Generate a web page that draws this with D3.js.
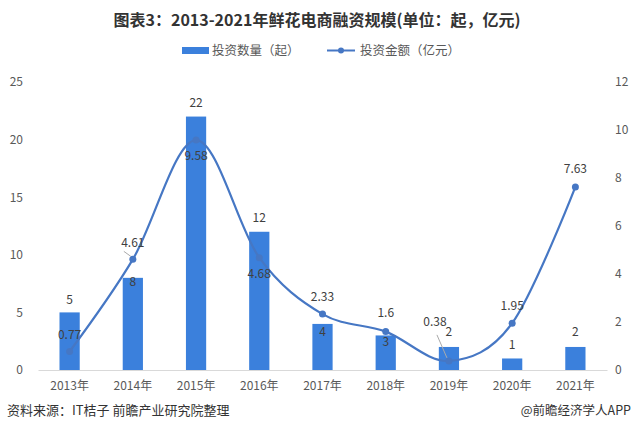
<!DOCTYPE html>
<html><head><meta charset="utf-8">
<script src="https://cdn.jsdelivr.net/npm/d3@7"></script>
<style>body{margin:0;background:#fff}svg{display:block}text{font-family:"Noto Sans CJK SC","Noto Sans",sans-serif}</style>
</head><body><svg id="c" width="634" height="435"></svg>
<script>
const years = ["2013年","2014年","2015年","2016年","2017年","2018年","2019年","2020年","2021年"];
const counts = [5, 8, 22, 12, 4, 3, 2, 1, 2];
const amounts = [0.77, 4.61, 9.58, 4.68, 2.33, 1.6, 0.38, 1.95, 7.63];
const leftTicks = [0, 5, 10, 15, 20, 25];
const rightTicks = [0, 2, 4, 6, 8, 10, 12];

// label offsets (layout)
const countLabelDy = [-12, 5, -13, -13, 9, 7, -14, -13, -14];
const amtLabelDy = [-16, -16, 17, 17, -16, -18, -38, -16, -17];
const amtLabelDx = [0, 0, 0, 0, 0, 0, -14, 0, 0];

const svg = d3.select("#c");
const barColor = "#3b80dc", lineColor = "#4677c4", textColor = "#595959";

const x = d3.scaleBand().domain(years).range([38, 607]).paddingInner(0.68).paddingOuter(0.34);
const yL = d3.scaleLinear().domain([0, 25]).range([370, 82]);
const yR = d3.scaleLinear().domain([0, 12]).range([370, 82]);

svg.append("text").attr("x", 317).attr("y", 26).attr("text-anchor", "middle")
  .attr("font-size", 16).attr("font-weight", "bold").attr("fill", "#333").text("图表3：2013-2021年鲜花电商融资规模(单位：起，亿元)");

// legend
svg.append("rect").attr("x", 182).attr("y", 47).attr("width", 27).attr("height", 7).attr("fill", barColor);
svg.append("text").attr("x", 212).attr("y", 55).attr("font-size", 12.5).attr("fill", textColor).text("投资数量（起）");
svg.append("line").attr("x1", 327).attr("x2", 355).attr("y1", 50.5).attr("y2", 50.5).attr("stroke", lineColor).attr("stroke-width", 2);
svg.append("circle").attr("cx", 341).attr("cy", 50.5).attr("r", 3).attr("fill", lineColor);
svg.append("text").attr("x", 360).attr("y", 55).attr("font-size", 12.5).attr("fill", textColor).text("投资金额（亿元）");

// axes
const gL = svg.append("g").attr("transform", "translate(23,0)")
  .call(d3.axisLeft(yL).tickValues(leftTicks).tickSize(0).tickPadding(0));
const gR = svg.append("g").attr("transform", "translate(615,0)")
  .call(d3.axisRight(yR).tickValues(rightTicks).tickSize(0).tickPadding(0));
[gL, gR].forEach(g => {
  g.select(".domain").remove();
  g.selectAll("text").attr("font-size", 12).attr("fill", textColor).attr("font-family", '"Open Sans","Noto Sans",sans-serif');
});
const gX = svg.append("g").attr("transform", "translate(0,370)")
  .call(d3.axisBottom(x).tickSize(0).tickPadding(11));
gX.select(".domain").attr("stroke", "#d9d9d9");
gX.selectAll("text").attr("font-size", 12).attr("fill", textColor);

// bars
svg.selectAll("rect.bar").data(counts).join("rect").attr("class", "bar")
  .attr("x", (d, i) => x(years[i])).attr("width", x.bandwidth())
  .attr("y", d => yL(d)).attr("height", d => yL(0) - yL(d)).attr("fill", barColor);

// line
const line = d3.line().x((d, i) => x(years[i]) + x.bandwidth() / 2).y(d => yR(d)).curve(d3.curveCatmullRom.alpha(0));
svg.append("path").datum(amounts).attr("d", line).attr("fill", "none").attr("stroke", lineColor).attr("stroke-width", 2.2);
svg.selectAll("circle.pt").data(amounts).join("circle").attr("class", "pt")
  .attr("cx", (d, i) => x(years[i]) + x.bandwidth() / 2).attr("cy", d => yR(d)).attr("r", 3.5).attr("fill", lineColor);

// leader lines
const leaders = [[1, -12], [6, -30]];
leaders.forEach(([i, dy]) => {
  const cx = x(years[i]) + x.bandwidth() / 2, cy = yR(amounts[i]);
  const lx = i === 6 ? cx - 12 : cx - 9;
  svg.append("line").attr("x1", lx).attr("y1", cy + dy + 4).attr("x2", cx - 2).attr("y2", cy - 3)
    .attr("stroke", "#aaa").attr("stroke-width", 1);
});

// labels
svg.selectAll("text.cl").data(counts).join("text").attr("class", "cl")
  .attr("x", (d, i) => x(years[i]) + x.bandwidth() / 2).attr("y", (d, i) => yL(d) + countLabelDy[i])
  .attr("text-anchor", "middle").attr("dominant-baseline", "middle").attr("font-size", 12).attr("fill", "#404040")
  .attr("font-family", '"Open Sans","Noto Sans",sans-serif').text(d => d);
svg.selectAll("text.al").data(amounts).join("text").attr("class", "al")
  .attr("x", (d, i) => x(years[i]) + x.bandwidth() / 2 + amtLabelDx[i]).attr("y", (d, i) => yR(d) + amtLabelDy[i])
  .attr("text-anchor", "middle").attr("dominant-baseline", "middle").attr("font-size", 12).attr("fill", "#404040")
  .attr("font-family", '"Open Sans","Noto Sans",sans-serif').text(d => d);

// footer
svg.append("text").attr("x", 7).attr("y", 415).attr("font-size", 13).attr("fill", "#333").text("资料来源：IT桔子 前瞻产业研究院整理");
svg.append("text").attr("x", 631).attr("y", 415).attr("text-anchor", "end").attr("font-size", 12.5).attr("fill", "#333").text("@前瞻经济学人APP");
</script></body></html>
